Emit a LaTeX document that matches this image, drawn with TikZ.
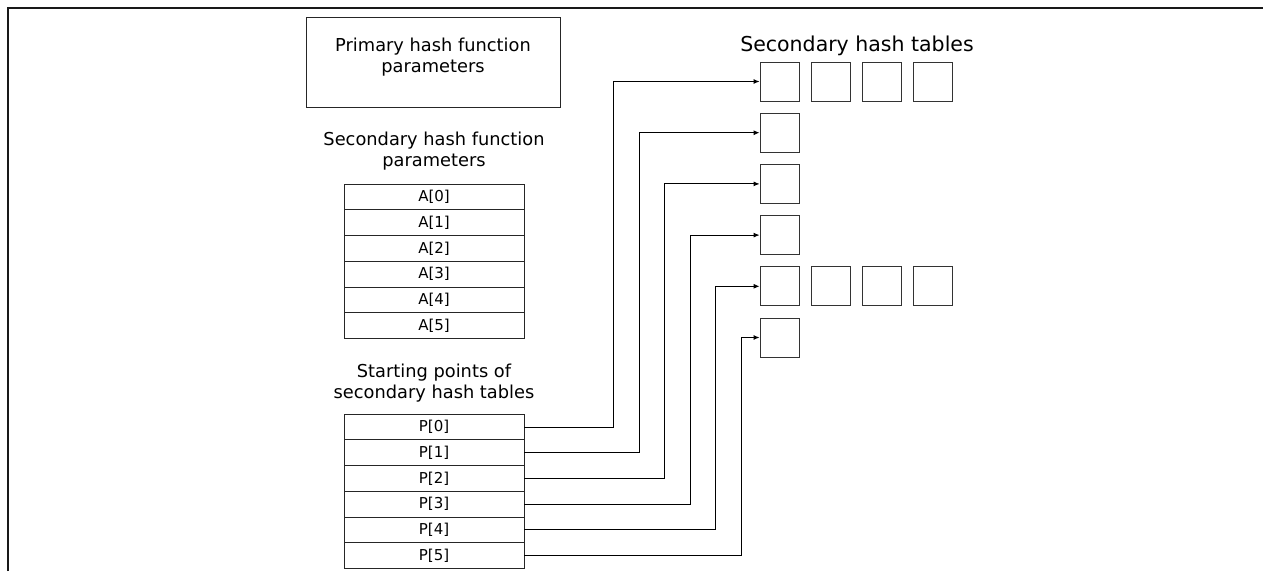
\documentclass[tikz,border=0pt]{standalone}
\usepackage{fontspec}
\setmainfont{DejaVu Sans}
\usetikzlibrary{arrows.meta}
\begin{document}
\begin{tikzpicture}[x=1pt,y=-1pt,
  frame/.style={line width=2pt, draw=black!90},
  cell/.style={draw=black!85, line width=0.9pt, minimum width=180pt, minimum height=25.7pt, inner sep=0pt, font=\fontsize{15}{17}\selectfont},
  sbox/.style={draw=black!80, line width=0.9pt, minimum width=39pt, minimum height=39pt, inner sep=0pt},
  lbl/.style={align=center, font=\fontsize{17.8}{21}\selectfont, inner sep=0pt},
  arr/.style={draw=black, line width=0.9pt, -{Latex[length=6pt,width=5pt]}}]
\useasboundingbox (0,0) rectangle (1263,571);
\fill[white] (0,0) rectangle (1263,571);
\draw[frame] (8,571) -- (8,8) -- (1263,8);
% primary
\node[draw=black!85, line width=0.9pt, minimum width=254pt, minimum height=90pt, inner sep=0pt] (prim) at (433,62) {};
\node[lbl] (primtxt) at (433,57) {Primary hash function\\parameters};
% secondary params
\node[lbl] (sectxt) at (434,151) {Secondary hash function\\parameters};
\foreach \i in {0,...,5}{
  \node[cell] (a\i) at (434,{197+25.7*\i}) {A[\i]};
}
% starting points
\node[lbl] (sptxt) at (434,383) {Starting points of\\secondary hash tables};
\foreach \i in {0,...,5}{
  \node[cell] (p\i) at (434,{427+25.7*\i}) {P[\i]};
}
% secondary tables
\node[lbl, font=\fontsize{20.5}{24}\selectfont] (sttxt) at (857,46) {Secondary hash tables};
\foreach \i in {0,...,5}{
  \node[sbox] (s\i) at (779.5,{81.5+51.2*\i}) {};
}
\foreach \j in {1,2,3}{
  \node[sbox] (e0\j) at ({779.5+51.2*\j},81.5) {};
  \node[sbox] (e4\j) at ({779.5+51.2*\j},{81.5+51.2*4}) {};
}
% connectors
\foreach \i in {0,...,5}{
  \draw[arr] (p\i.east) -- ++({89+25.6*\i},0) |- (s\i.west);
}
\end{tikzpicture}
\end{document}
